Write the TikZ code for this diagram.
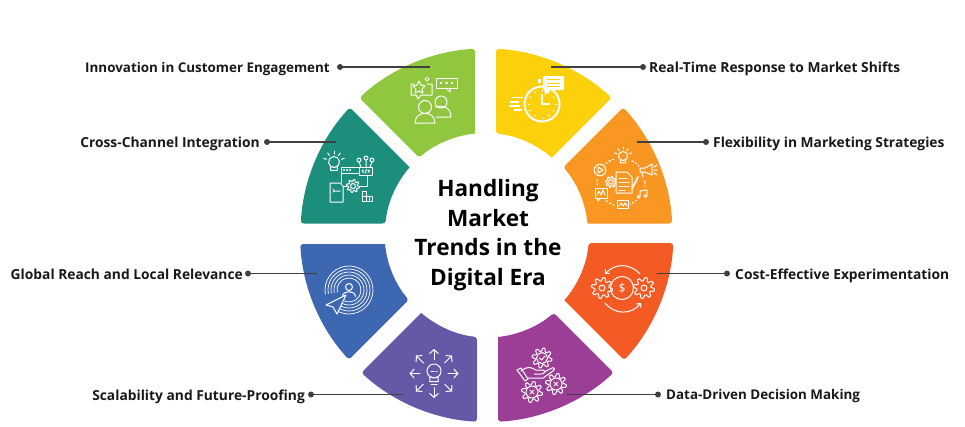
\documentclass[tikz,border=0pt]{standalone}
\usepackage{fontspec}
\setmainfont{Open Sans}
\usetikzlibrary{arrows.meta}
\definecolor{segGreen}{HTML}{90C73F}
\definecolor{segTeal}{HTML}{1C8F7C}
\definecolor{segYellow}{HTML}{FDD00C}
\definecolor{segOrange}{HTML}{FA9622}
\definecolor{segRed}{HTML}{F45A24}
\definecolor{segMagenta}{HTML}{9C3E96}
\definecolor{segPurple}{HTML}{6459A7}
\definecolor{segBlue}{HTML}{3E67B1}
\definecolor{leadGray}{HTML}{404040}
\tikzset{
	lbl/.style={font=\fontsize{13.8}{15}\selectfont\bfseries, text=black!90, inner sep=0pt},
	lblnarrow/.style={lbl, font=\fontsize{13.4}{15}\selectfont\bfseries},
	titlelbl/.style={font=\fontsize{22.6}{29.5}\selectfont\bfseries, text=black, align=center, inner sep=0pt},
	leader/.style={line width=1.3pt, color=leadGray},
	dotmark/.style={circle, fill=leadGray, minimum size=6pt, inner sep=0pt},
	ic/.style={draw=white, line width=1pt, line cap=round, line join=round},
}
% ring piece: colour, (centre), (from angle:to angle:gap at from:gap at to)
\def\ringpart[#1](#2)(#3:#4:#5:#6){
	\pgfmathsetmacro\outA{#3+asin(#5/186)}
	\pgfmathsetmacro\outB{#4-asin(#6/186)}
	\pgfmathsetmacro\innA{#3+asin(#5/101.5)}
	\pgfmathsetmacro\innB{#4-asin(#6/101.5)}
	\fill[#1, shift={(#2)}] (\innB:101.5) [rounded corners=3pt] -- (\outB:186) arc (\outB:\outA:186) -- (\innA:101.5) [sharp corners] arc (\innA:\innB:101.5) -- cycle;
}
\def\gearicon(#1,#2,#3){
	\draw[ic, shift={(#1,#2)}] plot[domain=0:360, samples=65] (\x:{#3*(0.84+0.16*sign(sin(8*\x)))}) -- cycle;
}
\def\bulbicon(#1,#2,#3){
	\draw[ic, shift={(#1,#2)}] (-0.6*#3,0.8*#3) arc (127:-307:#3) -- (0.6*#3,1.5*#3) -- (-0.6*#3,1.5*#3) -- cycle;
}

\begin{document}
\begin{tikzpicture}[x=1pt, y=-1pt]
	\useasboundingbox (0,0) rectangle (965,426);
	
	%%%%% RING %%%%%
	\ringpart[segOrange](486.5,233.5)(-45:0:7.5:10);
	\ringpart[segRed](487.5,234)(0:45:9:7.5);
	\ringpart[segMagenta](487.5,236)(45:90:7.5:10.5);
	\ringpart[segPurple](487.5,236)(90:135:10.5:7.5);
	\ringpart[segBlue](486,234)(135:180:8:10);
	\ringpart[segTeal](486.5,233.5)(180:225:10:7.5);
	\ringpart[segGreen](485.5,234.5)(225:270:7.5:10.5);
	\ringpart[segYellow](485.5,234.5)(270:315:10.5:7.5);
	
	\node[titlelbl] (titleNode) at (488,235) {Handling\\Market\\Trends in the\\Digital Era};
	
	%%%%% LABELS %%%%%
	\node[lblnarrow, anchor=base east] (innovLabel) at (330,72) {Innovation in Customer Engagement};
	\node[dotmark] (innovDot) at (340,67) {};
	\coordinate (innovEnd) at (430,67);
	\draw[leader] (innovDot.center) -- (innovEnd);
	
	\node[lbl, anchor=base east] (crossLabel) at (260,147) {Cross-Channel Integration};
	\node[dotmark] (crossDot) at (267,142) {};
	\coordinate (crossEnd) at (336,142);
	\draw[leader] (crossDot.center) -- (crossEnd);
	
	\node[lbl, anchor=base east] (globalLabel) at (243,279) {Global Reach and Local Relevance};
	\node[dotmark] (globalDot) at (248,273.5) {};
	\coordinate (globalEnd) at (317,273.5);
	\draw[leader] (globalDot.center) -- (globalEnd);
	
	\node[lbl, anchor=base east] (scaleLabel) at (305,400) {Scalability and Future-Proofing};
	\node[dotmark] (scaleDot) at (311,394.5) {};
	\coordinate (scaleEnd) at (403,394.5);
	\draw[leader] (scaleDot.center) -- (scaleEnd);
	
	\node[lbl, anchor=base west] (realLabel) at (649,72) {Real-Time Response to Market Shifts};
	\node[dotmark] (realDot) at (643,67) {};
	\coordinate (realEnd) at (551,67);
	\draw[leader] (realDot.center) -- (realEnd);
	
	\node[lbl, anchor=base west] (flexLabel) at (713,147) {Flexibility in Marketing Strategies};
	\node[dotmark] (flexDot) at (706,142) {};
	\coordinate (flexEnd) at (637,142);
	\draw[leader] (flexDot.center) -- (flexEnd);
	
	\node[lbl, anchor=base west] (costLabel) at (735,279) {Cost-Effective Experimentation};
	\node[dotmark] (costDot) at (727,273.5) {};
	\coordinate (costEnd) at (657,273.5);
	\draw[leader] (costDot.center) -- (costEnd);
	
	\node[lblnarrow, anchor=base west] (dataLabel) at (666,399) {Data-Driven Decision Making};
	\node[dotmark] (dataDot) at (658,394.5) {};
	\coordinate (dataEnd) at (567,394.5);
	\draw[leader] (dataDot.center) -- (dataEnd);
	
	%%%%% GREEN ICON %%%%%
	\draw[ic] (425,107) circle (6.5);
	\draw[ic] (415,123) .. controls (415,110) and (435,110) .. (435,123) -- cycle;
	\draw[ic] (441,102) circle (6);
	\draw[ic] (435.5,107) .. controls (441,105) and (451,106) .. (451,117) -- (436,117);
	\draw[ic] (436,78) rectangle (457,88);
	\draw[ic] (446,88) -- (450,92) -- (450,88);
	\foreach \px in {441,446.5,452} \draw[ic] (\px,83) circle (0.8);
	\draw[ic] (414,84) -- (411,84) -- (411,95) -- (416,95) -- (418,99) -- (421,95) -- (432,95) -- (432,84) -- (427,84);
	\draw[ic] (419,81) -- (421,85) -- (425,86) -- (422,89) -- (423,93) -- (419,91) -- (415,93) -- (416,89) -- (413,86) -- (417,85) -- cycle;
	\draw[ic] (427,77) -- (429,79) -- (427,81) -- (425,79) -- cycle;
	
	%%%%% TEAL ICON %%%%%
	\bulbicon(334,162,5.5)
	\foreach \a in {200,235,270,305,340} \draw[ic] (334,162) ++(\a:8) -- ++(\a:3);
	\draw[ic] (359,167) rectangle (372,175);
	\draw[ic] (363.5,170) -- (362,171) -- (363.5,172.5) (365,173) -- (366.5,169.5) (368,170) -- (369.5,171) -- (368,172.5);
	\foreach \px/\py in {359/160,366/158,372/160} \draw[ic] (\px,\py) circle (2);
	\draw[ic] (359,162) -- (361,167) (366,160) -- (366,167) (372,162) -- (370,167);
	\draw[ic] (341,167) rectangle (359,173);
	\foreach \px in {344,347,350} \draw[ic] (\px,170) circle (0.5);
	\draw[ic] (341,173) -- (341,183);
	\draw[ic] (330,183) -- (340,183) -- (343,186) -- (343,202) -- (330,202) -- cycle;
	\draw[ic] (333,189) -- (335,191) -- (333,192) (336,191) -- (340,191);
	\gearicon(353,186,6.5)
	\draw[ic] (353,186) circle (2.5);
	\draw[ic] (343,186) -- (346.5,186) (359.5,186) -- (367,186) -- (367,175);
	\draw[ic] (362,191) -- (366,191) -- (366,196) -- (372,196) -- (372,201) -- (362,201) -- cycle;
	\draw[ic] (362,196) -- (366,196) -- (366,201) (369,196) -- (369,201);
	
	%%%%% YELLOW ICON %%%%%
	\draw[white, line width=2pt] (542,104) circle (17.5);
	\foreach \a in {0,30,...,330} \draw[white, line width=1pt] (542,104) ++(\a:12.5) -- ++(\a:2);
	\draw[white, line width=1.2pt] (542,94) -- (542,104) -- (550,104);
	\fill[white] (542,104) circle (1.5);
	\fill[white, rounded corners=1pt] (543,76) rectangle (564,90);
	\fill[white] (544,89) -- (545,95) -- (551,89) -- cycle;
	\draw[segYellow, line width=1pt] (547,79.5) -- (560,79.5) (547,83) -- (560,83) (547,86.5) -- (560,86.5);
	\fill[white] (538,79) rectangle (541,83);
	\draw[white, line width=1.2pt] (531,90) -- (527,93);
	\draw[white, line width=1.2pt] (512,97.5) -- (523,97.5) (510,102) -- (519,102) (509,106) -- (520,106) (514,110) -- (522,110);
	
	%%%%% ORANGE ICON %%%%%
	\draw[ic, dash pattern=on 2pt off 2pt] (621,182) circle (24);
	\fill[segOrange] (623,157) circle (9) (600,170) circle (8.5) (648,171) circle (10) (601,193) circle (8) (622,204) circle (8) (642,194) circle (8);
	\bulbicon(623,156,4.5)
	\foreach \a in {200,235,270,305,340} \draw[ic] (623,156) ++(\a:6.5) -- ++(\a:2.5);
	\draw[ic] (600,170) circle (5.8);
	\draw[ic] (598,167) -- (603,170) -- (598,173) -- cycle;
	\draw[ic] (640,168) -- (645,168) -- (652,164) -- (652,175) -- (645,172) -- (640,172) -- cycle;
	\draw[ic] (642,172) -- (643,177) (654,167) -- (657,165) (654,170) -- (657,170) (654,173) -- (657,175);
	\gearicon(611,182,5.5)
	\draw[ic] (611,182) circle (2.2);
	\draw[ic, fill=segOrange] (616,172) -- (627,172) -- (632,177) -- (632,193) -- (616,193) -- cycle;
	\draw[ic] (619,178) -- (627,178) (619,182) -- (629,182) (619,186) -- (629,186) (619,190) -- (625,190);
	\draw[ic, line width=1.6pt] (632,189) -- (638,177);
	\draw[ic] (595,188) rectangle (607,198);
	\draw[ic] (597,198) -- (598,201) -- (601,198);
	\draw[ic] (597,195) -- (599,191) -- (601,195) -- (603,190) -- (605,195);
	\draw[ic] (617,200) rectangle (628,208);
	\draw[ic] (619,206) -- (621,203) -- (623,206) -- (625,203) -- (627,206);
	\draw[ic] (640,196) -- (640,191) -- (647,190) -- (647,195);
	\draw[ic] (638.5,197) circle (1.5) (645.5,196) circle (1.5);
	
	%%%%% RED ICON %%%%%
	\draw[ic] (622,288) circle (11.5);
	\node[text=white, font=\fontsize{12}{14}\selectfont, inner sep=0pt] (dollarSign) at (622,288) {\$};
	\gearicon(602,288,10.5)
	\draw[ic] (602,288) circle (3);
	\gearicon(644,288,10.5)
	\draw[ic] (644,288) circle (3);
	\draw[ic, -{Straight Barb[length=3pt, width=6pt]}] (640,274) .. controls (630,263) and (615,263) .. (605,274);
	\draw[ic, -{Straight Barb[length=3pt, width=6pt]}] (605,303) .. controls (615,315) and (631,315) .. (641,303);
	
	%%%%% MAGENTA ICON %%%%%
	\gearicon(542,358,10)
	\draw[ic] (542,358) circle (5.5);
	\draw[ic] (539.5,358) -- (541.5,360) -- (545,356);
	\gearicon(532,392,10.5)
	\draw[ic] (532,392) circle (6);
	\draw[ic] (530,390) -- (534,394) (534,390) -- (530,394);
	\gearicon(556,384,10.5)
	\draw[ic] (556,384) circle (6);
	\draw[ic] (554,382) -- (558,386) (558,382) -- (554,386);
	\draw[ic] (517,370) -- (521,368) -- (528,379) -- (525,381) -- cycle;
	\draw[ic] (521,371) .. controls (527,366) and (531,367) .. (536,370) -- (543,370) .. controls (546,371) and (545,374) .. (541,374) -- (534,374);
	\draw[ic] (544,372) -- (552,368) .. controls (555,367) and (555,370) .. (553,371) -- (543,378) -- (527,378);
	
	%%%%% PURPLE ICON %%%%%
	\bulbicon(434,371,7)
	\draw[ic] (429.5,381.5) -- (438.5,381.5) (431,384.5) -- (437,384.5);
	\draw[ic, densely dashed] (431,371) -- (437,371);
	\foreach \a in {0,90,180,270} \draw[ic, -{Straight Barb[length=4pt, width=9pt]}] (434,373.5) ++(\a:14) -- ++(\a:10.5);
	\foreach \a in {45,135,225,315} \draw[ic, -{Straight Barb[length=4pt, width=9pt]}] (434,373.5) ++(\a:15) -- ++(\a:10.5);
	
	%%%%% BLUE ICON %%%%%
	\foreach \r in {24,21,18,15,12} \draw[ic, line width=0.7pt] (349,290) ++(170:\r) arc (170:485:\r);
	\draw[ic] (349,287) circle (3.5);
	\draw[ic] (342.5,296.5) .. controls (343,290) and (355,290) .. (355.5,296.5);
	\draw[ic, fill=segBlue] (346,295) -- (326,305) -- (333,307) -- (337,314) -- cycle;
	
\end{tikzpicture}
\end{document}
